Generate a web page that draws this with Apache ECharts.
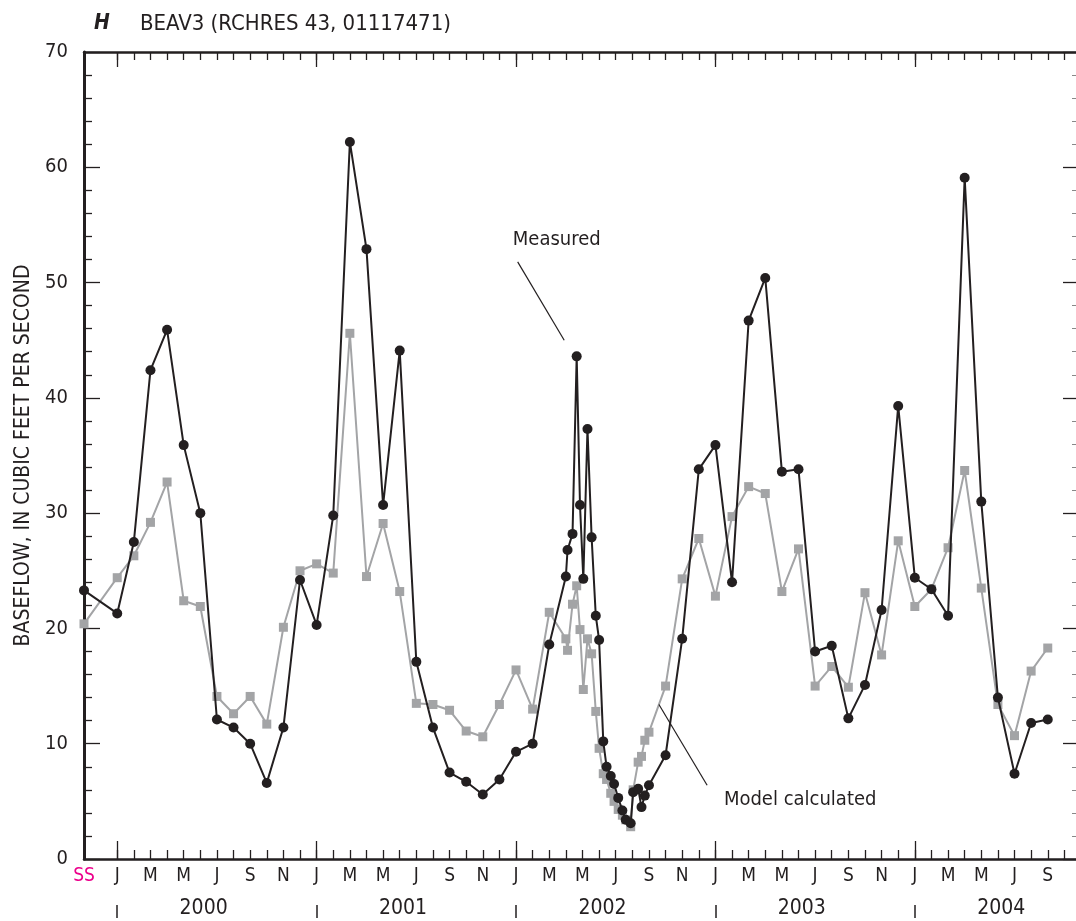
<!DOCTYPE html>
<html>
<head>
<meta charset="utf-8">
<title>BEAV3 baseflow</title>
<script src="https://cdn.jsdelivr.net/npm/echarts@6/dist/echarts.min.js"></script>
<style>
  html, body { margin: 0; padding: 0; background: #ffffff; }
  #chart { width: 1076px; height: 921px; }
</style>
</head>
<body>
<div id="chart"></div>
<script>
// Sample times in months counted from January 2000 (-2 is the steady-state run "SS").
const sampleMonths = [
  -2, 0, 1, 2, 3, 4, 5, 6, 7, 8, 9, 10, 11,
  12, 13, 14, 15, 16, 17, 18, 19, 20, 21, 22, 23,
  24, 25, 26, 27, 27.1, 27.4, 27.65, 27.85, 28.05, 28.3, 28.55, 28.8, 29.0,
  29.25, 29.45, 29.7, 29.9, 30.15, 30.4, 30.6, 30.9, 31.05, 31.35, 31.55, 31.75,
  32.0, 33, 34, 35,
  36, 37, 38, 39, 40, 41, 42, 43, 44, 45, 46, 47,
  48, 49, 50, 51, 52, 53, 54, 55, 56
];

// Measured baseflow, cubic feet per second
const measured = [
  23.3, 21.3, 27.5, 42.4, 45.9, 35.9, 30.0, 12.1, 11.4, 10.0, 6.6, 11.4, 24.2,
  20.3, 29.8, 62.2, 52.9, 30.7, 44.1, 17.1, 11.4, 7.5, 6.7, 5.6, 6.9,
  9.3, 10.0, 18.6, 24.5, 26.8, 28.2, 43.6, 30.7, 24.3, 37.3, 27.9, 21.1, 19.0,
  10.2, 8.0, 7.2, 6.5, 5.3, 4.2, 3.4, 3.1, 5.8, 6.1, 4.5, 5.5,
  6.4, 9.0, 19.1, 33.8,
  35.9, 24.0, 46.7, 50.4, 33.6, 33.8, 18.0, 18.5, 12.2, 15.1, 21.6, 39.3,
  24.4, 23.4, 21.1, 59.1, 31.0, 14.0, 7.4, 11.8, 12.1
];

// Model-calculated baseflow, cubic feet per second
const modelCalc = [
  20.4, 24.4, 26.3, 29.2, 32.7, 22.4, 21.9, 14.1, 12.6, 14.1, 11.7, 20.1, 25.0,
  25.6, 24.8, 45.6, 24.5, 29.1, 23.2, 13.5, 13.4, 12.9, 11.1, 10.6, 13.4,
  16.4, 13.0, 21.4, 19.1, 18.1, 22.1, 23.7, 19.9, 14.7, 19.1, 17.8, 12.8, 9.6,
  7.4, 6.9, 5.7, 5.0, 4.3, 3.8, 3.4, 2.8, 6.0, 8.4, 8.9, 10.3,
  11.0, 15.0, 24.3, 27.8,
  22.8, 29.7, 32.3, 31.7, 23.2, 26.9, 15.0, 16.7, 14.9, 23.1, 17.7, 27.6,
  21.9, 23.4, 27.0, 33.7, 23.5, 13.4, 10.7, 16.3, 18.3
];

// Axis vocabulary
const monthLetters = ['J', 'F', 'M', 'A', 'M', 'J', 'J', 'A', 'S', 'O', 'N', 'D'];
const years = ['2000', '2001', '2002', '2003', '2004'];
const yTickValues = [0, 10, 20, 30, 40, 50, 60, 70];

// Tick / label positions along the time axis (months from Jan 2000)
const monthTickValues = Array.from({ length: 58 }, (_, i) => i);
const monthLabelValues = [-2].concat(Array.from({ length: 29 }, (_, i) => i * 2));
const yearStartValues = years.map((_, i) => i * 12);
const yearLabelValues = years.map((_, i) => i * 12 + 5.2);

const INK = '#231f20';
const GREY = '#a3a4a6';
const FONT = "'Liberation Sans Narrow', 'Arial Narrow', 'DejaVu Sans Condensed', sans-serif";
const X_MIN = -2, X_MAX = 57.7;

function timeAxis(extra) {
  return Object.assign({
    type: 'value', min: X_MIN, max: X_MAX,
    splitLine: { show: false },
    axisLine: { show: false, onZero: false },
    axisTick: { show: false },
    axisLabel: { show: false }
  }, extra);
}

const chart = echarts.init(document.getElementById('chart'), null, { renderer: 'canvas' });

chart.setOption({
  animation: false,
  backgroundColor: '#ffffff',
  textStyle: { fontFamily: FONT },
  title: {
    left: 89, top: 8,
    text: '{h|H}{t|BEAV3 (RCHRES 43, 01117471)}',
    textStyle: {
      fontWeight: 'normal',
      rich: {
        h: { fontFamily: FONT, fontSize: 21, fontWeight: 'bold', fontStyle: 'italic', color: INK, width: 46 },
        t: { fontFamily: FONT, fontSize: 22, fontWeight: 'normal', color: INK }
      }
    }
  },
  grid: { left: 84, right: -3, top: 52, bottom: 62, containLabel: false },
  xAxis: [
    // bottom frame with monthly ticks and month letters
    timeAxis({
      position: 'bottom',
      axisLine: { show: true, onZero: false, lineStyle: { color: INK, width: 2.5 } },
      axisTick: { show: true, inside: true, length: 9, customValues: monthTickValues, lineStyle: { color: INK, width: 1.3 } },
      axisLabel: {
        show: true, customValues: monthLabelValues, margin: 8, showMinLabel: true,
        fontFamily: FONT, fontSize: 19, color: INK,
        formatter: v => v < 0 ? '{ss|SS}' : monthLetters[((Math.round(v) % 12) + 12) % 12],
        rich: { ss: { color: '#ec008c', fontFamily: FONT, fontSize: 19 } }
      }
    }),
    // longer January ticks on the bottom frame
    timeAxis({
      position: 'bottom',
      axisTick: { show: true, inside: true, length: 18, customValues: yearStartValues, lineStyle: { color: INK, width: 1.3 } }
    }),
    // year names
    timeAxis({
      position: 'bottom', offset: 37,
      axisLabel: {
        show: true, customValues: yearLabelValues, margin: 2,
        fontFamily: FONT, fontSize: 21, color: INK,
        formatter: v => years[Math.floor(v / 12)]
      }
    }),
    // year separators
    timeAxis({
      position: 'bottom', offset: 46,
      axisTick: { show: true, inside: false, length: 13, customValues: yearStartValues, lineStyle: { color: INK, width: 1.5 } }
    }),
    // top frame with monthly ticks
    timeAxis({
      position: 'top',
      axisLine: { show: true, onZero: false, lineStyle: { color: INK, width: 2.5 } },
      axisTick: { show: true, inside: true, length: 8, customValues: monthTickValues, lineStyle: { color: INK, width: 1.3 } }
    }),
    // longer January ticks on the top frame
    timeAxis({
      position: 'top',
      axisTick: { show: true, inside: true, length: 15, customValues: yearStartValues, lineStyle: { color: INK, width: 1.3 } }
    })
  ],
  yAxis: [
    {
      type: 'value', position: 'left', min: 0, max: 70, interval: 10,
      name: 'BASEFLOW, IN CUBIC FEET PER SECOND',
      nameLocation: 'middle', nameGap: 44, nameRotate: 90,
      nameTextStyle: { fontFamily: FONT, fontSize: 21, color: INK },
      splitLine: { show: false },
      axisLine: { show: true, onZero: false, lineStyle: { color: INK, width: 3 } },
      axisTick: { show: true, inside: true, length: 16, customValues: yTickValues, lineStyle: { color: INK, width: 1.3 } },
      minorTick: { show: true, splitNumber: 5, length: 8, lineStyle: { color: INK, width: 1.3 } },
      axisLabel: { show: true, margin: 16, fontFamily: FONT, fontSize: 20, color: INK }
    },
    {
      type: 'value', position: 'right', min: 0, max: 70, interval: 10,
      splitLine: { show: false },
      axisLine: { show: false, onZero: false },
      axisTick: { show: true, inside: true, length: 13, lineStyle: { color: INK, width: 1.3 } },
      minorTick: { show: true, splitNumber: 5, length: 4, lineStyle: { color: '#888888', width: 1 } },
      axisLabel: { show: false }
    }
  ],
  series: [
    {
      name: 'Model calculated',
      type: 'line', xAxisIndex: 0, yAxisIndex: 0,
      data: sampleMonths.map((m, i) => [m, modelCalc[i]]),
      symbol: 'rect', symbolSize: 9, showAllSymbol: true,
      lineStyle: { color: GREY, width: 2 },
      itemStyle: { color: GREY, borderWidth: 0 },
      z: 2
    },
    {
      name: 'Measured',
      type: 'line', xAxisIndex: 0, yAxisIndex: 0,
      data: sampleMonths.map((m, i) => [m, measured[i]]),
      symbol: 'circle', symbolSize: 10, showAllSymbol: true,
      lineStyle: { color: INK, width: 2 },
      itemStyle: { color: INK, borderWidth: 0 },
      z: 3,
      markLine: {
        silent: true, symbol: ['none', 'none'],
        lineStyle: { color: INK, width: 1.2, type: 'solid' },
        label: { show: false },
        data: [
          [{ coord: [24.1, 51.8] }, { coord: [26.9, 45.0] }],
          [{ coord: [32.6, 13.4] }, { coord: [35.5, 6.4] }]
        ]
      },
      markPoint: {
        silent: true, symbol: 'rect', symbolSize: 1,
        itemStyle: { color: 'rgba(0,0,0,0)' },
        label: {
          show: true, position: 'inside', formatter: '{b}',
          fontFamily: FONT, fontSize: 20, color: INK
        },
        data: [
          { name: 'Measured', coord: [26.45, 53.7] },
          { name: 'Model calculated', coord: [41.1, 5.1] }
        ]
      }
    }
  ]
});
</script>
</body>
</html>
